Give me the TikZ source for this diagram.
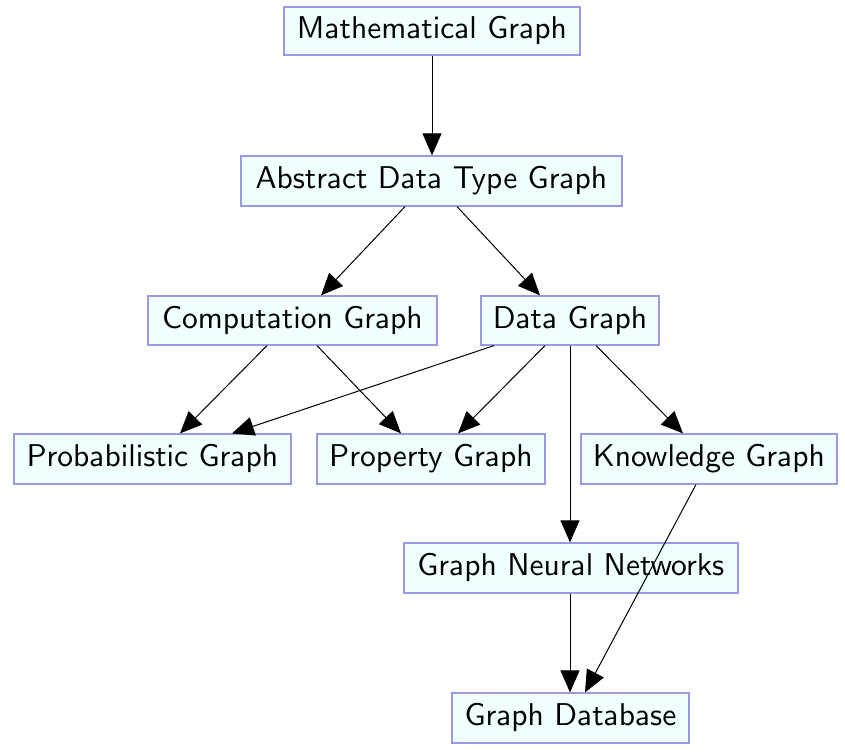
\documentclass[tikz,border=0pt]{standalone}
\usetikzlibrary{arrows.meta,calc}
\definecolor{boxfill}{HTML}{F0FFFF}
\definecolor{boxline}{HTML}{9999E6}
\font\boxfont=cmss10 at 31.5pt
\begin{document}
\begin{tikzpicture}[x=1pt,y=-1pt,
 box/.style={draw=boxline,fill=boxfill,line width=1.2pt,inner sep=0pt,font=\boxfont},
 edge/.style={line width=1pt,-{Triangle[length=22pt,width=19pt]}}]
\useasboundingbox (0,0) rectangle (845,754);
\node[box,minimum width=296pt,minimum height=48pt] (mg) at (432,31) {Mathematical Graph};
\node[box,minimum width=381pt,minimum height=50pt] (adt) at (431.5,181) {Abstract Data Type Graph};
\node[box,minimum width=289pt,minimum height=49pt] (comp) at (292.5,320.5) {Computation Graph};
\node[box,minimum width=178pt,minimum height=49pt] (data) at (570,320.5) {Data Graph};
\node[box,minimum width=277pt,minimum height=50pt] (prob) at (152.5,459) {Probabilistic Graph};
\node[box,minimum width=228pt,minimum height=50pt] (prop) at (431,459) {Property Graph};
\node[box,minimum width=256pt,minimum height=50pt] (know) at (709,459) {Knowledge Graph};
\node[box,minimum width=334pt,minimum height=50pt] (gnn) at (571,568) {Graph Neural Networks};
\node[box,minimum width=237pt,minimum height=50pt] (gdb) at (570.5,718) {Graph Database};

\draw[edge] (mg.south) -- (mg.south |- adt.north);
\draw[edge] ([xshift=-26.5pt]adt.south) -- ([xshift=28.5pt]comp.north);
\draw[edge] ([xshift=25.5pt]adt.south) -- ([xshift=-30pt]data.north);
\draw[edge] ([xshift=-25.5pt]comp.south) -- ([xshift=27.5pt]prob.north);
\draw[edge] ([xshift=24.5pt]comp.south) -- ([xshift=-30pt]prop.north);
\draw[edge] ([xshift=-76pt]data.south) -- ([xshift=79.5pt]prob.north);
\draw[edge] ([xshift=-25pt]data.south) -- ([xshift=27pt]prop.north);
\draw[edge] (data.south) -- (data.south |- gnn.north);
\draw[edge] ([xshift=26pt]data.south) -- ([xshift=-26pt]know.north);
\draw[edge] ([xshift=-13pt]know.south) -- ([xshift=14.5pt]gdb.north);
\draw[edge] (gnn.south -| data.south) -- (data.south |- gdb.north);
\end{tikzpicture}
\end{document}
